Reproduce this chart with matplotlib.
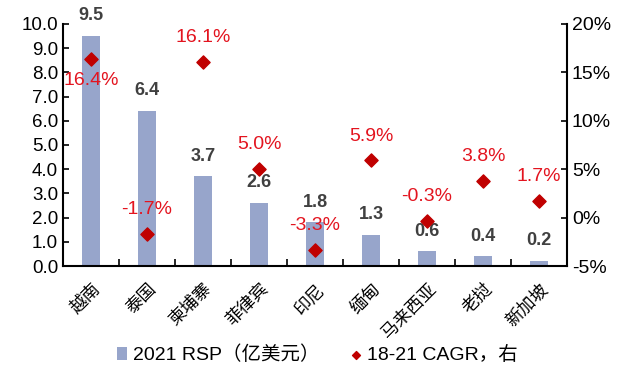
import numpy as np
import matplotlib.pyplot as plt
from matplotlib.ticker import FuncFormatter, MultipleLocator

plt.rcParams['font.family'] = ['Liberation Sans', 'Noto Sans CJK SC', 'DejaVu Sans']

countries = ["越南", "泰国", "柬埔寨", "菲律宾", "印尼", "缅甸", "马来西亚", "老挝", "新加坡"]
rsp_2021 = [9.5, 6.4, 3.7, 2.6, 1.8, 1.3, 0.6, 0.4, 0.2]
cagr_18_21 = [16.4, -1.7, 16.1, 5.0, -3.3, 5.9, -0.3, 3.8, 1.7]

bar_color = "#97A5CB"
dot_color = "#C00000"
lab_red = "#E3141F"
lab_grey = "#404040"

fig = plt.figure(figsize=(6.26, 3.77), dpi=100)
ax = fig.add_axes([0.1006, 0.2944, 0.8052, 0.6420])
ax2 = ax.twinx()

x = np.arange(len(countries))
bars = ax.bar(x, rsp_2021, width=0.33, color=bar_color, label="2021 RSP（亿美元）", zorder=2)
pts = ax2.scatter(x, cagr_18_21, marker="D", s=45, color=dot_color, label="18-21 CAGR，右", zorder=3)

ax.set_xlim(-0.5, len(countries) - 0.5)
ax.set_ylim(0, 10)
ax2.set_ylim(-5, 20)
ax.yaxis.set_major_locator(MultipleLocator(1))
ax.yaxis.set_major_formatter(FuncFormatter(lambda v, p: f"{v:.1f}"))
ax2.yaxis.set_major_locator(MultipleLocator(5))
ax2.yaxis.set_major_formatter(FuncFormatter(lambda v, p: f"{v:.0f}%"))

# category labels, tick marks sit between categories
ax.set_xticks(x)
ax.set_xticklabels(countries, rotation=45, ha="right", rotation_mode="anchor",
                   fontsize=12.5, family=['Noto Sans CJK SC'])
ax.tick_params(axis="x", which="major", length=0, pad=10)
ax.set_xticks(np.arange(-0.5, len(countries), 1), minor=True)
ax.tick_params(axis="x", which="minor", direction="in", length=5, width=1.2)

ax.tick_params(axis="y", direction="in", length=4, width=1.2, labelsize=13.5, colors="black")
ax2.tick_params(axis="y", direction="in", length=4, width=1.2, labelsize=14)

for a in (ax, ax2):
    a.spines["top"].set_visible(False)
    for s in ("left", "right", "bottom"):
        a.spines[s].set_linewidth(1.5)
ax2.spines["left"].set_visible(False)
ax2.spines["bottom"].set_visible(False)
ax.spines["right"].set_visible(False)

for xi, v in zip(x, rsp_2021):
    ax.annotate(f"{v:.1f}", (xi, v), xytext=(0, 8.5), textcoords="offset points",
                ha="center", va="bottom", fontsize=13, fontweight="bold", color=lab_grey)

for i, (xi, v) in enumerate(zip(x, cagr_18_21)):
    if i == 0:
        ax2.annotate(f"{v:.1f}%", (xi, v), xytext=(0, -9.5), textcoords="offset points",
                     ha="center", va="top", fontsize=14, color=lab_red)
    else:
        ax2.annotate(f"{v:.1f}%", (xi, v), xytext=(0, 11.5), textcoords="offset points",
                     ha="center", va="bottom", fontsize=14, color=lab_red)

fig.legend(handles=[bars, pts], loc="center", bbox_to_anchor=(0.507, 0.058), ncol=2,
           frameon=False, fontsize=14, handlelength=0.55, handletextpad=0.3,
           columnspacing=1.6, markerscale=0.6)

fig.savefig("out.png", dpi=100)
